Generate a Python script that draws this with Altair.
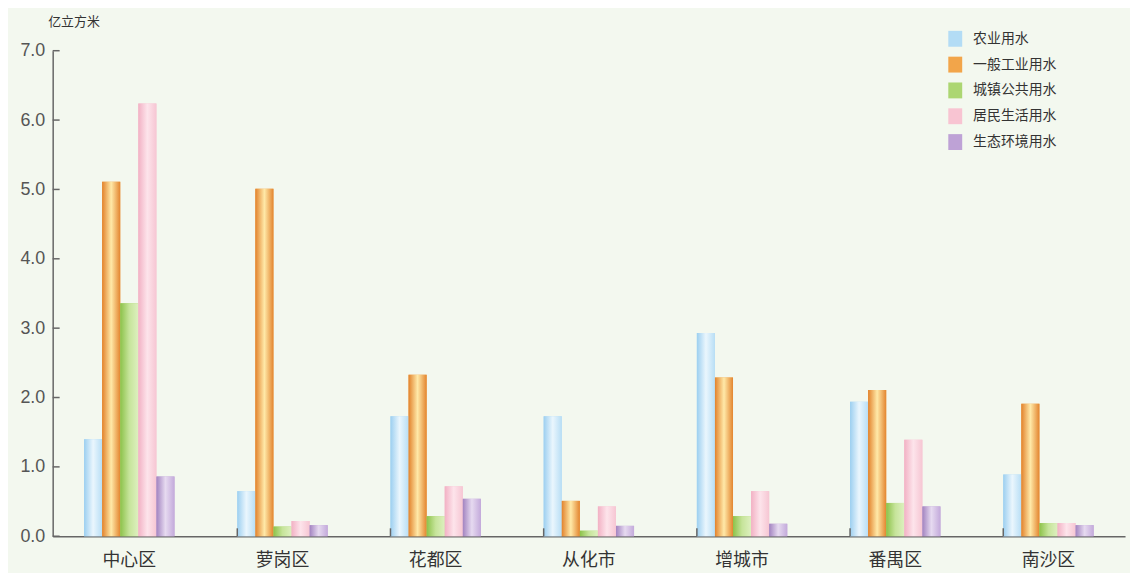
import altair as alt
import pandas as pd

regions = ["中心区", "萝岗区", "花都区", "从化市", "增城市", "番禺区", "南沙区"]
types = ["农业用水", "一般工业用水", "城镇公共用水", "居民生活用水", "生态环境用水"]
agri = [1.40, 0.65, 1.73, 1.73, 2.93, 1.94, 0.89]
indu = [5.11, 5.01, 2.33, 0.51, 2.29, 2.11, 1.91]
publ = [3.36, 0.14, 0.29, 0.08, 0.29, 0.48, 0.19]
resi = [6.24, 0.22, 0.72, 0.43, 0.65, 1.39, 0.19]
eco = [0.86, 0.16, 0.54, 0.15, 0.18, 0.43, 0.16]
y_ticks = [0, 1, 2, 3, 4, 5, 6, 7]

solid = ["#b3dcf5", "#f2a54a", "#acd672", "#f8c4d2", "#bea2d6"]
grads = [
    ["#9ccff0", "#eaf6fd", "#b8def5"],
    ["#e2822c", "#ffe9a8", "#e3852f"],
    ["#8cc24a", "#c6e49a", "#ddf0bf"],
    ["#f2b1c4", "#fde4eb", "#f6c6d3"],
    ["#a283c0", "#e6daf0", "#c3aadb"],
]

series = [agri, indu, publ, resi, eco]
rows = []
for t, vals in zip(types, series):
    for r, v in zip(regions, vals):
        rows.append({"region": r, "type": t, "value": v})
df = pd.DataFrame(rows)

FONT = "Liberation Sans, Noto Sans CJK SC, sans-serif"
CJK = "Noto Sans CJK SC, sans-serif"
W, H = 1080, 489

xenc = alt.X("region:N", sort=regions,
             scale=alt.Scale(domain=regions, paddingInner=0.41, paddingOuter=0.205),
             axis=alt.Axis(title=None, labelAngle=0, ticks=False, labelFont=CJK,
                           labelFontSize=18, labelColor="#333333", labelPadding=15,
                           domainColor="#666666", domainWidth=1.5))
yscale = alt.Scale(domain=[0, 7], nice=False)
xoff = alt.XOffset("type:N", sort=types, scale=alt.Scale(domain=types, paddingInner=0, paddingOuter=0))

base = alt.Chart(df).mark_bar().encode(
    x=xenc,
    xOffset=xoff,
    y=alt.Y("value:Q", scale=yscale,
            axis=alt.Axis(title="亿立方米", titleAngle=0, titleX=-5, titleY=-29,
                          titleAlign="left", titleBaseline="middle", titleFont=CJK,
                          titleFontSize=13, titleFontWeight="normal", titleColor="#333333",
                          values=y_ticks, format=".1f", ticks=False, grid=False,
                          labelFont=FONT, labelFontSize=18, labelColor="#555555",
                          labelPadding=8, domainColor="#666666", domainWidth=1.5)),
    color=alt.Color("type:N", sort=types, scale=alt.Scale(domain=types, range=solid),
                    legend=alt.Legend(title=None, orient="none", legendX=899, legendY=-22,
                                      symbolType="M-0.7,-0.8H0.7V0.8H-0.7Z",
                                      symbolSize=400, symbolStrokeWidth=0,
                                      symbolOpacity=1,
                                      labelFont=CJK, labelFontSize=14, labelColor="#333333",
                                      labelOffset=8, rowPadding=8, padding=0)),
)

layers = [base]
for t, g in zip(types, grads):
    layers.append(
        alt.Chart(df).transform_filter(alt.datum.type == t).mark_bar(
            color=alt.Gradient(gradient="linear", x1=0, x2=1, y1=0, y2=0,
                               stops=[alt.GradientStop(offset=0, color=g[0]),
                                      alt.GradientStop(offset=0.5, color=g[1]),
                                      alt.GradientStop(offset=1, color=g[2])])
        ).encode(x=alt.X("region:N", sort=regions), xOffset=xoff,
                 y=alt.Y("value:Q", scale=yscale))
    )

ytick_df = pd.DataFrame({"v": y_ticks})
yt = alt.Chart(ytick_df).mark_rule(color="#666666", strokeWidth=1.5).encode(
    y=alt.Y("v:Q", scale=yscale), x=alt.value(0), x2=alt.value(7))

xtick_df = pd.DataFrame({"region": regions[1:]})
xt = alt.Chart(xtick_df).mark_rule(color="#666666", strokeWidth=1.5).encode(
    x=alt.X("region:N", sort=regions, bandPosition=0),
    y=alt.value(H - 8), y2=alt.value(H))

chart = alt.layer(*layers, yt, xt).properties(
    width=W, height=H,
    background="#f3f8ef",
    padding={"left": 45, "top": 41, "right": 5, "bottom": 35},
    autosize=alt.AutoSizeParams(type="none"),
).configure_view(stroke=None)

chart.save("out.html", embed_options={"renderer": "svg", "actions": False})
